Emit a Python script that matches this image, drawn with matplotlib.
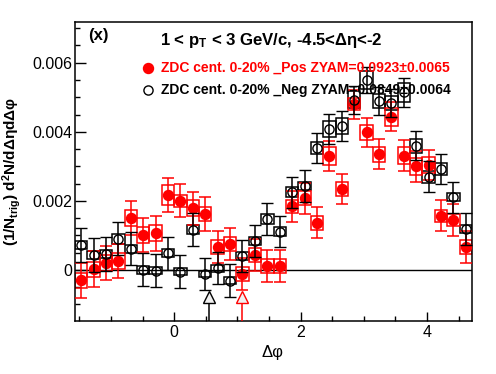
import numpy as np
import matplotlib
matplotlib.use("Agg")
import matplotlib.pyplot as plt
from matplotlib.ticker import MultipleLocator, FixedLocator, FuncFormatter

plt.rcParams['font.family'] = ['Liberation Sans', 'DejaVu Sans']
plt.rcParams['mathtext.fontset'] = 'custom'
plt.rcParams['mathtext.rm'] = 'Liberation Sans:bold'
plt.rcParams['mathtext.it'] = 'Liberation Sans:bold'
plt.rcParams['mathtext.bf'] = 'Liberation Sans:bold'

# ---------------- data ----------------
n_bins = 32
phi_lo, phi_hi = -np.pi / 2, 3 * np.pi / 2

pos_y = [-0.00030, 0.00002, 0.00020, 0.00026, 0.00150, 0.00101, 0.00106, 0.00217,
         0.00200, 0.00179, 0.00162, 0.00066, 0.00075, -0.00012, 0.00043, 0.00012,
         0.00012, 0.00184, 0.00208, 0.00137, 0.00330, 0.00235, 0.00480, 0.00398,
         0.00335, 0.00444, 0.00331, 0.00300, 0.00304, 0.00157, 0.00145, 0.00066]
pos_err = [0.00050, 0.00052, 0.00050, 0.00050, 0.00050, 0.00050, 0.00050, 0.00048,
           0.00048, 0.00048, 0.00048, 0.00047, 0.00047, 0.00047, 0.00047, 0.00046,
           0.00046, 0.00045, 0.00045, 0.00046, 0.00043, 0.00044, 0.00042, 0.00043,
           0.00043, 0.00043, 0.00044, 0.00044, 0.00044, 0.00045, 0.00046, 0.00047]
pos_sys = [0.00021, 0.00022, 0.00022, 0.00022, 0.00024, 0.00024, 0.00023, 0.00028,
           0.00017, 0.00024, 0.00020, 0.00020, 0.00020, 0.00020, 0.00021, 0.00020,
           0.00020, 0.00018, 0.00020, 0.00020, 0.00025, 0.00020, 0.00017, 0.00023,
           0.00022, 0.00026, 0.00024, 0.00024, 0.00023, 0.00017, 0.00018, 0.00020]

neg_y = [0.00072, 0.00043, 0.00046, 0.00090, 0.00061, 0.00000, -0.00002, 0.00048,
         -0.00005, 0.00116, -0.00012, 0.00005, -0.00031, 0.00040, 0.00084, 0.00148,
         0.00111, 0.00225, 0.00243, 0.00353, 0.00408, 0.00417, 0.00493, 0.00550,
         0.00490, 0.00483, 0.00514, 0.00360, 0.00270, 0.00293, 0.00211, 0.00119]
neg_err = [0.00048, 0.00048, 0.00048, 0.00048, 0.00048, 0.00048, 0.00048, 0.00048,
           0.00048, 0.00048, 0.00047, 0.00047, 0.00047, 0.00047, 0.00046, 0.00046,
           0.00046, 0.00045, 0.00045, 0.00044, 0.00043, 0.00043, 0.00041, 0.00039,
           0.00040, 0.00041, 0.00042, 0.00043, 0.00044, 0.00044, 0.00045, 0.00046]
neg_sys = [0.00012, 0.00012, 0.00012, 0.00014, 0.00012, 0.00011, 0.00011, 0.00012,
           0.00011, 0.00013, 0.00010, 0.00010, 0.00011, 0.00011, 0.00012, 0.00014,
           0.00013, 0.00015, 0.00013, 0.00017, 0.00022, 0.00022, 0.00024, 0.00026,
           0.00020, 0.00021, 0.00027, 0.00020, 0.00017, 0.00018, 0.00012, 0.00011]

# open-triangle markers (minimum positions)
tri_x = [0.55, 1.07]
tri_y = [-0.00078, -0.00078]
tri_colors = ['black', 'red']

title = "1 < p$_{\\mathrm{T}}$ < 3 GeV/c, -4.5<Δη<-2"
panel = "(x)"
pos_label = "ZDC cent. 0-20% _Pos ZYAM=0.0923±0.0065"
neg_label = "ZDC cent. 0-20% _Neg ZYAM=0.0849±0.0064"
ytick_vals = [0.0, 0.002, 0.004, 0.006]
xtick_vals = [0, 2, 4]

# ---------------- plot ----------------
edges = np.linspace(phi_lo, phi_hi, n_bins + 1)
centers = 0.5 * (edges[:-1] + edges[1:])
width = edges[1] - edges[0]

pos_y = np.array(pos_y); pos_sys = np.array(pos_sys)
neg_y = np.array(neg_y); neg_sys = np.array(neg_sys)

fig = plt.figure(figsize=(4.96, 3.74), dpi=100)
ax = fig.add_axes([75 / 496, 1 - 321 / 374, 397 / 496, 299 / 374])
ylo, yhi = -0.00148, 0.00718
ax.set_xlim(phi_lo, phi_hi)
ax.set_ylim(ylo, yhi)

ax.axhline(0, color='black', lw=1.0, zorder=1)

# systematic boxes
ax.bar(centers, 2 * neg_sys, width=width, bottom=neg_y - neg_sys, fill=False,
       edgecolor='black', linewidth=1.1, zorder=2)
ax.bar(centers, 2 * pos_sys, width=width, bottom=pos_y - pos_sys, fill=False,
       edgecolor='red', linewidth=1.1, zorder=2)

# statistical error bars + markers
ax.errorbar(centers, pos_y, yerr=pos_err, fmt='o', color='red', ms=7.2,
            mec='red', mfc='red', elinewidth=1.1, capsize=4.5, capthick=1.1, zorder=4)
ax.errorbar(centers, neg_y, yerr=neg_err, fmt='o', color='black', ms=6.6,
            mec='black', mfc='none', mew=1.0, elinewidth=1.1, capsize=4.5,
            capthick=1.1, zorder=5)

# triangles with lines to the bottom
for tx, ty, tc in zip(tri_x, tri_y, tri_colors):
    ax.vlines(tx, ylo, ty, color=tc, lw=1.1, zorder=3)
    ax.plot([tx], [ty], marker='^', ms=8.5, mfc='#f0f0f0', mec=tc, mew=1.0,
            linestyle='none', zorder=6)

# axes styling
for s in ax.spines.values():
    s.set_linewidth(1.1)
ax.xaxis.set_major_locator(FixedLocator(xtick_vals))
ax.xaxis.set_minor_locator(MultipleLocator(0.5))
ax.yaxis.set_major_locator(FixedLocator(ytick_vals))
ax.yaxis.set_minor_locator(MultipleLocator(0.0005))
ax.yaxis.set_major_formatter(FuncFormatter(lambda v, p: '0' if abs(v) < 1e-12 else f'{v:.3f}'))
ax.tick_params(which='both', direction='in', top=False, right=False, width=1.0)
ax.tick_params(axis='x', which='major', length=6.5, pad=3, labelsize=11.5)
ax.tick_params(axis='x', which='minor', length=3.6)
ax.tick_params(axis='y', which='major', length=8, pad=2, labelsize=11.5)
ax.tick_params(axis='y', which='minor', length=3.6)

fig.text(272 / 496, 1 - 352 / 374, "Δφ", ha='center', va='center', fontsize=12)
fig.text(12 / 496, 0.5 * (2 - (22 + 321) / 374), "(1/N$_{\\mathrm{trig}}$) d$^{2}$N/dΔηdΔφ",
         rotation=90, ha='center', va='center', fontsize=11, fontweight='bold')

tr = ax.transAxes
ax.text(0.033, 0.94, panel, transform=tr, fontsize=12, fontweight='bold',
        ha='left', va='baseline')
ax.text(0.214, 0.923, title, transform=tr, fontsize=12.1, fontweight='bold',
        ha='left', va='baseline')
ax.plot([0.183], [0.847], marker='o', ms=7.2, color='red', transform=tr,
        linestyle='none', clip_on=False)
ax.plot([0.183], [0.7726], marker='o', ms=6.6, mfc='none', mec='black', mew=1.0,
        transform=tr, linestyle='none', clip_on=False)
ax.text(0.216, 0.847, pos_label, transform=tr, fontsize=10, fontweight='bold',
        color='red', ha='left', va='center', zorder=7)
ax.text(0.216, 0.7726, neg_label, transform=tr, fontsize=10, fontweight='bold',
        color='black', ha='left', va='center', zorder=7)

fig.savefig('out.png', dpi=100)
